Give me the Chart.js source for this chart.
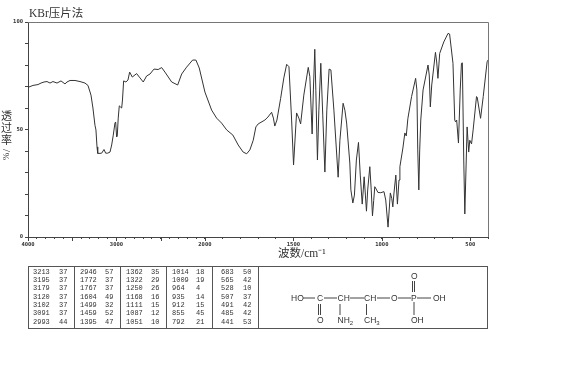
<!DOCTYPE html>
<html><head><meta charset="utf-8">
<style>
html,body{margin:0;padding:0;background:#fff;width:570px;height:380px;overflow:hidden}
#wrap{position:relative;width:570px;height:380px}
canvas{position:absolute;left:0;top:0}
.t{position:absolute;white-space:nowrap;color:#333}
.cell{font:7px/1 "Liberation Mono",monospace;color:#333}
.yc{font:11px/1 "Noto Sans CJK SC",sans-serif;left:1px}
#xtitle{font:11.5px/1 "Liberation Serif","Noto Sans CJK SC",serif;left:278px;top:248px}
#main{font:11.5px/1 "Liberation Serif","Noto Sans CJK SC",serif;left:29px;top:8px}
.box{position:absolute;background:#555}
svg{position:absolute;left:0;top:0}
svg text{font:8.5px "Liberation Sans",sans-serif;fill:#333}
svg line{stroke:#444;stroke-width:1}
</style>
<script src="https://cdn.jsdelivr.net/npm/chart.js@4"></script>
</head><body><div id="wrap">
<canvas id="c" width="570" height="380"></canvas>
<div class="t" id="main">KBr压片法</div>
<div class="t yc" style="top:110px">透</div>
<div class="t yc" style="top:122px">过</div>
<div class="t yc" style="top:134px">率</div>
<div class="t yc" style="top:145px;left:5px;transform:rotate(90deg);font-family:'Liberation Serif',serif">/</div>
<div class="t yc" style="top:152px;left:2px;font-size:9px;transform:rotate(90deg);font-family:'Liberation Serif',serif">%</div>
<div class="t" id="xtitle">波数/cm⁻¹</div>
<div class="box" style="left:28px;top:266px;width:460px;height:1px"></div>
<div class="box" style="left:28px;top:328px;width:460px;height:1px"></div>
<div class="box" style="left:28px;top:266px;width:1px;height:63px"></div>
<div class="box" style="left:74px;top:266px;width:1px;height:63px"></div>
<div class="box" style="left:120px;top:266px;width:1px;height:63px"></div>
<div class="box" style="left:166px;top:266px;width:1px;height:63px"></div>
<div class="box" style="left:212px;top:266px;width:1px;height:63px"></div>
<div class="box" style="left:258px;top:266px;width:1px;height:63px"></div>
<div class="box" style="left:487px;top:266px;width:1px;height:63px"></div>
<svg width="570" height="380">
<text x="291" y="301">HO</text><line x1="303" y1="298" x2="315" y2="298"/>
<text x="317" y="301">C</text><line x1="324" y1="298" x2="337" y2="298"/>
<text x="337.5" y="301">CH</text><line x1="350" y1="298" x2="364" y2="298"/>
<text x="364" y="301">CH</text><line x1="377" y1="298" x2="390" y2="298"/>
<text x="391" y="301">O</text><line x1="398" y1="298" x2="411" y2="298"/>
<text x="411" y="301">P</text><line x1="417" y1="298" x2="431" y2="298"/>
<text x="433" y="301">OH</text>
<line x1="318.5" y1="304" x2="318.5" y2="315"/><line x1="320.5" y1="304" x2="320.5" y2="315"/>
<text x="317" y="323">O</text>
<line x1="340" y1="304" x2="340" y2="315"/>
<text x="337.5" y="323">NH<tspan font-size="6" dy="2">2</tspan></text>
<line x1="366.5" y1="304" x2="366.5" y2="315"/>
<text x="364" y="323">CH<tspan font-size="6" dy="2">3</tspan></text>
<line x1="412.5" y1="281" x2="412.5" y2="292"/><line x1="414.5" y1="281" x2="414.5" y2="292"/>
<text x="411" y="279">O</text>
<line x1="414" y1="302" x2="414" y2="315"/>
<text x="411" y="323">OH</text>
</svg>
</div>
<script>
const waveNumbers=[4000,3944,3887,3853,3819,3785,3751,3718,3672,3627,3582,3559,3525,3469,3412,3356,3322,3288,3266,3243,3232,3220,3212,3186,3167,3141,3122,3099,3073,3054,3036,3017,3009,2998,2991,2980,2968,2955,2941,2932,2919,2893,2870,2851,2821,2772,2734,2697,2659,2621,2576,2528,2489,2452,2376,2308,2263,2207,2139,2102,2064,2000,
1962,1934,1906,1877,1842,1812,1784,1764,1746,1727,1712,1699,1661,1644,1623,1613,1605,1593,1572,1554,1538,1525,1510,1499,1482,1469,1459,1441,1416,1407,1394,1387,1379,1373,1364,1356,1345,1334,1322,1311,1298,1288,1271,1247,1237,1219,1209,1199,1181,1175,1164,1155,1144,1132,1122,1111,1105,1100,1093,1087,1080,1068,1060,1053,1046,1040,1032,1022,1006,988,978,965,952,944,938,932,921,912,903,898,881,870,862,853,832,809,802,797,791,786,780,767,739,732,726,718,697,690,683,673,650,626,617,598,588,583,577,567,557,550,545,537,531,526,518,509,503,493,484,465,461,442,427,405,400];
const transmittance=[69.6,70.5,70.9,71.6,72.1,72.3,71.6,72.3,71.6,72.6,71.2,72.1,72.8,72.8,72.3,71.6,70.5,66,60,52,49.8,41.9,38.9,38.9,39,40.7,39,39,39.5,42.8,47.4,53,53.5,46.5,47,55.3,61,60.5,60,63.7,72.6,72.1,73,76.7,74.4,76,74,72.1,74.9,75.8,78.1,77.9,78.8,76.7,72.1,70.7,75.8,79,82.3,82.3,78.6,67.4,
59,55.3,53,49.8,47.4,42.8,39.5,38.7,40.5,45,51.2,52.6,54.4,55.8,58,55.3,51.6,54.4,64.5,74,80.3,79.2,54.4,33.5,57.7,55.3,52.6,66,78.9,74.6,47.9,68.4,87.3,68,35.8,59,80.8,56.7,30.2,59,78.1,77.7,59,27.8,45,62.2,59,53,34.4,21.9,15.8,19.5,35.8,44,28.8,15.3,21.9,28,19.5,12,21.9,32.7,21.9,9.8,17,23.4,22.3,20.7,20.6,21.1,17.2,4.6,20.5,18,14,20,28.8,15.3,26.5,32.7,41.4,48.4,47,55,65.3,73.8,68.4,40.5,21.9,40.5,54.4,68.4,80,75.3,60.5,70.7,85.9,81.4,73.8,85.4,90.7,94.7,94.4,80.8,54.4,53.5,54.4,43.7,68.4,80.8,81,35.8,10.7,26.5,51.2,39.5,45,43.3,49.8,65.3,65,55.2,65.3,81.5,82.3];
const xTickWaves=[4000,3900,3800,3700,3600,3500,3400,3300,3200,3100,3000,2900,2800,2700,2600,2500,2400,2300,2200,2100,2000,1900,1800,1700,1600,1500,1400,1300,1200,1100,1000,900,800,700,600,500,400];
const xMajorWaves=[4000,3500,3000,2500,2000,1500,1000,500];
const xLabelWaves=[4000,3000,2000,1500,1000,500];
const yLabelValues=[0,50,100];
const peakWave=[3213,3195,3179,3120,3102,3091,2993,2946,1772,1767,1604,1499,1459,1395,1362,1322,1250,1168,1111,1087,1051,1014,1009,964,935,912,855,792,683,565,528,507,491,485,441];
const peakT=[37,37,37,37,37,37,44,57,37,37,49,32,52,47,35,29,26,16,15,12,10,18,19,4,14,15,45,21,50,42,10,37,42,42,53];
const colNumLeft=[33,80,126,172,221];
const colValLeft=[59,105,151,196,243];

// The abscissa changes scale at 2000 cm-1 (half the cm-1 per pixel below it)
const axisPos=w=>w>=2000?4000-w:2000+(2000-w)*2;
const wrap=document.getElementById('wrap');
peakWave.forEach((w,i)=>{
  const col=Math.floor(i/7),row=i%7,top=268.6+row*8.33;
  [[w,colNumLeft[col]],[peakT[i],colValLeft[col]]].forEach(([txt,left])=>{
    const s=document.createElement('div');
    s.className='t cell';s.textContent=txt;s.style.left=left+'px';s.style.top=top+'px';
    wrap.appendChild(s);
  });
});

const frame={id:'frame',afterDraw(ch){
  const {ctx,chartArea:a,scales:{x}}=ch;
  ctx.save();
  ctx.strokeStyle='#777';ctx.lineWidth=1;ctx.beginPath();
  ctx.moveTo(a.left,a.top+.5);ctx.lineTo(a.right+.5,a.top+.5);ctx.lineTo(a.right+.5,a.bottom);
  ctx.stroke();
  ctx.strokeStyle='#444';ctx.beginPath();
  xMajorWaves.forEach(w=>{const p=Math.round(x.getPixelForValue(axisPos(w)))+.5;ctx.moveTo(p,a.bottom);ctx.lineTo(p,a.bottom+4);});
  ctx.stroke();ctx.restore();
}};
const tickFont={family:'"DejaVu Sans Mono",monospace',size:5.5,weight:'bold'};
new Chart(document.getElementById('c'),{
  type:'line',
  data:{datasets:[{data:waveNumbers.map((w,i)=>({x:axisPos(w),y:transmittance[i]})),borderColor:'#333',borderWidth:1,pointRadius:0,tension:0,fill:false}]},
  options:{responsive:false,animation:false,events:[],
    layout:{padding:{top:22,right:82,left:0,bottom:0}},
    plugins:{legend:{display:false},tooltip:{enabled:false}},
    scales:{
      x:{type:'linear',min:0,max:5200,
        afterBuildTicks(s){s.ticks=xTickWaves.map(w=>({value:axisPos(w)}));},
        afterFit(s){s.height=143;},
        grid:{drawOnChartArea:false,drawTicks:true,tickLength:2,color:'#444'},
        border:{color:'#444',width:1},
        ticks:{autoSkip:false,maxRotation:0,minRotation:0,padding:2,color:'#333',font:tickFont,
          callback(v){const w=xLabelWaves.find(k=>axisPos(k)===v);return w===undefined?'':String(w);}}},
      y:{min:0,max:100,
        afterFit(s){s.width=28;},
        grid:{drawOnChartArea:false,drawTicks:true,tickLength:3,color:'#444'},
        border:{color:'#444',width:1},
        ticks:{stepSize:10,autoSkip:false,padding:2,color:'#333',font:tickFont,
          callback(v){return yLabelValues.includes(v)?String(v):'';}}}
    }},
  plugins:[frame]
});
</script>
</body></html>
